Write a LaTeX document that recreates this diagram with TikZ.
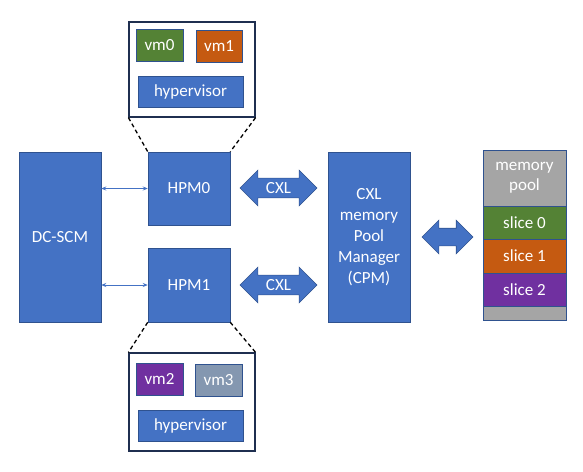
\documentclass[tikz,border=0pt]{standalone}
\usepackage{fontspec}
\setmainfont{Carlito}
\usetikzlibrary{shapes.arrows,arrows.meta}
\definecolor{cblue}{HTML}{4472C4}
\definecolor{cedge}{HTML}{2F528F}
\definecolor{cgreen}{HTML}{548235}
\definecolor{corange}{HTML}{C55A11}
\definecolor{cpurple}{HTML}{7030A0}
\definecolor{cgray}{HTML}{A5A5A5}
\definecolor{cslate}{HTML}{8497B0}
\definecolor{cnavy}{HTML}{1F2F50}
\tikzset{
  blk/.style={draw=cedge, line width=0.5pt, fill=#1, text=white, inner sep=0pt,
    font=\fontsize{17}{21}\selectfont, align=center},
  blk/.default=cblue,
  frame/.style={draw=cnavy, line width=1.2pt, fill=white, inner sep=0pt},
  fat/.style={double arrow, draw=cedge, line width=0.6pt, fill=cblue, text=white,
    font=\fontsize{17}{19}\selectfont, inner xsep=0pt, inner ysep=#1,
    double arrow head extend=8pt},
  thin/.style={cblue, line width=0.7pt, {Stealth[length=5pt,width=4pt]}-{Stealth[length=5pt,width=4pt]}},
  zoomline/.style={black, line width=1.3pt, dash pattern=on 4pt off 3pt}
}
\begin{document}
\begin{tikzpicture}[x=1pt,y=-1pt]
\useasboundingbox (0,0) rectangle (583,471);
% main blocks
\node[blk, minimum width=82pt, minimum height=170pt] (dcscm) at (60,237) {DC-SCM};
\node[blk, minimum width=82pt, minimum height=73pt] (hpm0) at (189,188.5) {HPM0};
\node[blk, minimum width=82pt, minimum height=74pt] (hpm1) at (189,285) {HPM1};
\node[blk, minimum width=82pt, minimum height=170pt] (cpm) at (369,237) {CXL\\memory\\Pool\\Manager\\(CPM)};
% top zoom frame
\node[frame, minimum width=126pt, minimum height=95pt] (top) at (192,69.5) {};
\node[blk=cgreen, minimum width=47pt, minimum height=32pt] (vm0) at (159.5,45.5) {vm0};
\node[blk=corange, minimum width=46pt, minimum height=32pt] (vm1) at (219,46.5) {vm1};
\node[blk, minimum width=105pt, minimum height=31pt] (hyp0) at (190.5,91.5) {hypervisor};
% bottom zoom frame
\node[frame, minimum width=126pt, minimum height=98pt] (bot) at (192,402) {};
\node[blk=cpurple, minimum width=47pt, minimum height=32pt] (vm2) at (159.5,379) {vm2};
\node[blk=cslate, minimum width=47pt, minimum height=32pt] (vm3) at (218.5,380) {vm3};
\node[blk, minimum width=105pt, minimum height=31pt] (hyp1) at (190.5,426) {hypervisor};
% zoom lines
\draw[zoomline] (top.south west) -- (hpm0.north west);
\draw[zoomline] (top.south east) -- (hpm0.north east);
\draw[zoomline] (hpm1.south west) -- (bot.north west);
\draw[zoomline] (hpm1.south east) -- (bot.north east);
% thin links
\draw[thin] (dcscm.east |- hpm0.west) -- (hpm0.west);
\draw[thin] (dcscm.east |- hpm1.west) -- (hpm1.west);
% CXL fat arrows
\node[fat=4pt, minimum height=77pt, minimum width=33pt] (cxl0) at (278.5,188) {CXL};
\node[fat=4pt, minimum height=77pt, minimum width=33pt] (cxl1) at (278.5,285) {CXL};
% memory pool column
\node[blk=cgray, minimum width=83pt, minimum height=56pt, font=\fontsize{17}{20}\selectfont] (pool) at (524.5,178) {memory\\pool};
\node[blk=cgreen, minimum width=83pt, minimum height=33pt] (s0) at (524.5,222.5) {slice 0};
\node[blk=corange, minimum width=83pt, minimum height=34pt] (s1) at (524.5,256) {slice 1};
\node[blk=cpurple, minimum width=83pt, minimum height=33pt] (s2) at (524.5,289.5) {slice 2};
\node[blk=cgray, minimum width=83pt, minimum height=14pt] (pbot) at (524.5,313) {};
% pool arrow
\node[fat=8.5pt, minimum height=51pt, minimum width=33pt] (parr) at (447.5,237) {};
\end{tikzpicture}
\end{document}
